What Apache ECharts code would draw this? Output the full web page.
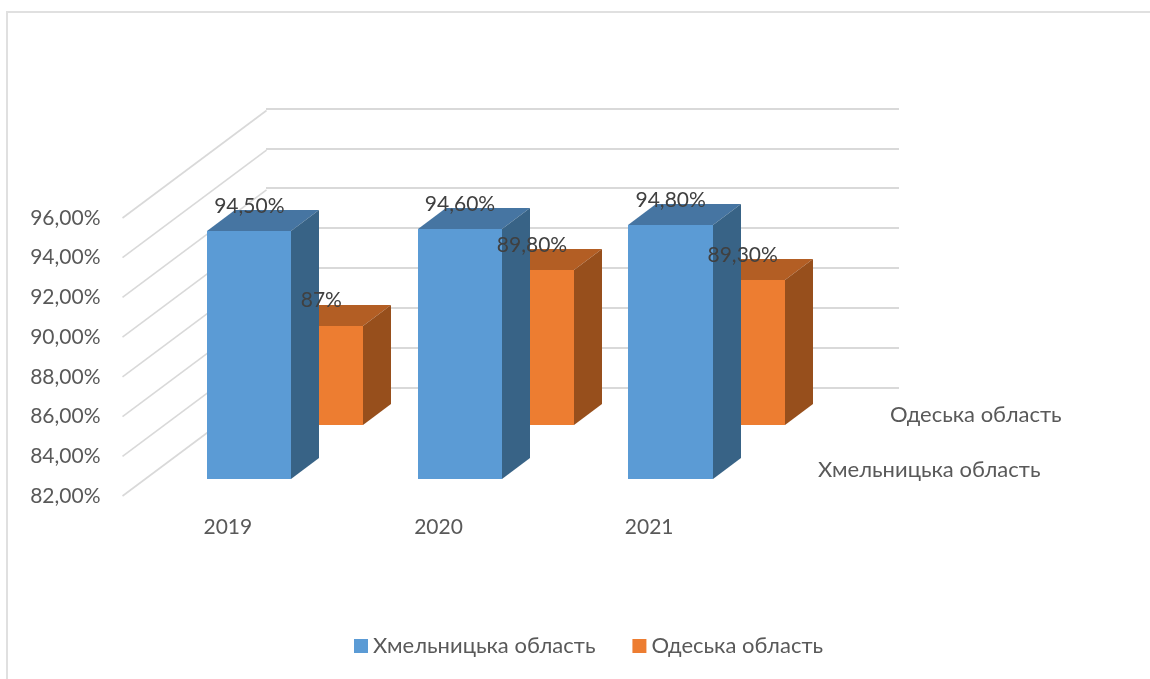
<!DOCTYPE html>
<html>
<head>
<meta charset="utf-8">
<title>Хмельницька та Одеська області</title>
<style>
  html, body { margin: 0; padding: 0; background: #fff; }
  #chart { width: 1150px; height: 679px; }
</style>
<script src="https://cdn.jsdelivr.net/npm/echarts@6/dist/echarts.min.js"></script>
</head>
<body>
<div id="chart"></div>
<script>
// values
const years = ['2019', '2020', '2021'];
const khmelnytska = [94.5, 94.6, 94.8];
const odeska = [87, 89.8, 89.3];
const khmelnytskaLabels = ['94,50%', '94,60%', '94,80%'];
const odeskaLabels = ['87%', '89,80%', '89,30%'];
const yTicks = [82, 84, 86, 88, 90, 92, 94, 96];
const nameKh = 'Хмельницька область';
const nameOd = 'Одеська область';

const font = 'Lato, "Noto Sans", sans-serif';
const textColor = '#595959';
const gridColor = '#d9d9d9';

// fake 3d: how far the back wall and the bar depth are shifted
const wallDx = 144, wallDy = -107.5;
const depthDx = 28, depthDy = -21;

function bar3d(front, top, side, left, right, lift) {
  return function (params, api) {
    const tip = api.coord([api.value(0), api.value(1)]);
    const base = api.coord([api.value(0), yTicks[0]]);
    // whole pixels, otherwise the seams between the faces show
    const x0 = Math.round(tip[0] + left), x1 = Math.round(tip[0] + right);
    const y0 = Math.round(tip[1] - lift), y1 = Math.round(base[1] - lift);
    return {
      type: 'group',
      children: [
        { type: 'polygon', shape: { points: [[x0, y0], [x1, y0], [x1 + depthDx, y0 + depthDy], [x0 + depthDx, y0 + depthDy]] }, style: { fill: top } },
        { type: 'polygon', shape: { points: [[x1, y0], [x1 + depthDx, y0 + depthDy], [x1 + depthDx, y1 + depthDy], [x1, y1]] }, style: { fill: side } },
        { type: 'rect', shape: { x: x0, y: y0, width: x1 - x0, height: y1 - y0 }, style: { fill: front } }
      ]
    };
  };
}

function labelItem(params, api) {
  const p = api.coord([api.value(0), api.value(1)]);
  return {
    type: 'text',
    x: p[0] + api.value(2),
    y: p[1] + api.value(3),
    style: {
      text: api.value(4), fill: '#404040', font: '21px ' + font,
      align: 'center', verticalAlign: 'middle'
    }
  };
}

const labelData = [];
years.forEach(function (y, i) {
  labelData.push([i, khmelnytska[i], 21.5, -42, khmelnytskaLabels[i]]);
  labelData.push([i, odeska[i], 93.5, -96, odeskaLabels[i]]);
});

var myChart = echarts.init(document.getElementById('chart'));
var option = {
  animation: false,
  backgroundColor: '#fff',
  textStyle: { fontFamily: font },
  grid: [
    { left: 122.5, top: 218, width: 632, height: 278 },
    { left: 266, top: 108.5, width: 633, height: 279 }
  ],
  xAxis: [
    {
      type: 'category', gridIndex: 0, data: years,
      axisLine: { show: false }, axisTick: { show: false },
      axisLabel: { color: textColor, fontSize: 21, fontFamily: font, margin: 21 }
    },
    { type: 'value', gridIndex: 1, show: false }
  ],
  yAxis: [
    {
      type: 'value', gridIndex: 0, min: 82, max: 96, interval: 2,
      axisLine: { show: false }, axisTick: { show: false }, splitLine: { show: false },
      axisLabel: {
        color: textColor, fontSize: 21, fontFamily: font, margin: 22, padding: [2, 0, 0, 0],
        formatter: function (v) { return v.toFixed(2).replace('.', ',') + '%'; }
      }
    },
    {
      type: 'value', gridIndex: 1, min: 82, max: 96, interval: 2,
      axisLine: { show: false }, axisTick: { show: false }, axisLabel: { show: false },
      splitLine: { show: true, lineStyle: { color: gridColor, width: 2 } }
    }
  ],
  legend: {
    data: [nameKh, nameOd], left: 354, top: 635, padding: 0, icon: 'rect',
    itemWidth: 14, itemHeight: 14, itemGap: 37,
    textStyle: { color: textColor, fontSize: 22, fontFamily: font }
  },
  graphic: [
    { type: 'polyline', silent: true, shape: { points: [[7, 679], [7, 12], [1150, 12]] }, style: { stroke: '#e0e0e0', lineWidth: 2, fill: 'none' } },
    { type: 'text', silent: true, x: 890, y: 415, style: { text: nameOd, fill: textColor, font: '22px ' + font, verticalAlign: 'middle' } },
    { type: 'text', silent: true, x: 818, y: 470, style: { text: nameKh, fill: textColor, font: '22px ' + font, verticalAlign: 'middle' } }
  ],
  series: [
    {
      name: 'walls', type: 'custom', coordinateSystem: 'cartesian2d', silent: true, z: 1,
      data: yTicks.map(function (t) { return [0, t]; }),
      encode: { x: 0, y: 1 },
      renderItem: function (params, api) {
        const p = api.coord([0, api.value(1)]);
        const x = params.coordSys.x;
        return {
          type: 'line',
          shape: { x1: x, y1: p[1], x2: x + wallDx, y2: p[1] + wallDy },
          style: { stroke: gridColor, lineWidth: 1.6 }
        };
      }
    },
    {
      name: nameOd, type: 'custom', z: 2, itemStyle: { color: '#ED7D31' },
      data: odeska.map(function (v, i) { return [i, v]; }),
      encode: { x: 0, y: 1 },
      renderItem: bar3d('#ED7D31', '#B35E24', '#974F1C', 60, 135.5, 71)
    },
    {
      name: nameKh, type: 'custom', z: 3, itemStyle: { color: '#5B9BD5' },
      data: khmelnytska.map(function (v, i) { return [i, v]; }),
      encode: { x: 0, y: 1 },
      renderItem: bar3d('#5B9BD5', '#4675A2', '#386386', -21, 63.5, 17)
    },
    {
      name: 'labels', type: 'custom', z: 4, silent: true,
      data: labelData,
      encode: { x: 0, y: 1 },
      renderItem: labelItem
    }
  ]
};
option && myChart.setOption(option);
</script>
</body>
</html>
